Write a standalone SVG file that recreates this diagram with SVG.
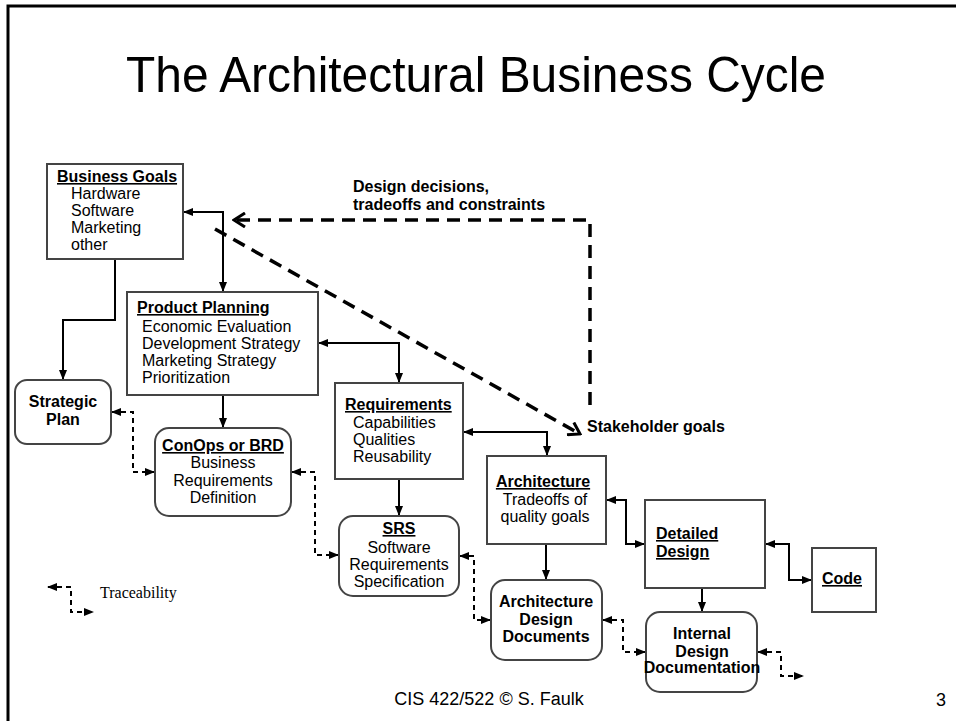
<svg xmlns="http://www.w3.org/2000/svg" width="956" height="721" viewBox="0 0 956 721">
<defs>
<style>
text{font-family:"Liberation Sans",Arial,sans-serif;font-size:16px;fill:#000}
.b{font-weight:bold}
.u{text-decoration:underline}
.m{text-anchor:middle}
.box{fill:#fff;stroke:#444;stroke-width:2}
.c{fill:none;stroke:#000;stroke-width:2}
.t{fill:none;stroke:#000;stroke-width:2;stroke-dasharray:5 4}
.big{fill:none;stroke:#000;stroke-width:3.5;stroke-dasharray:13 8}
</style>
<marker id="a" viewBox="0 0 10 8" refX="9" refY="4" markerWidth="10" markerHeight="8" markerUnits="userSpaceOnUse" orient="auto-start-reverse">
<path d="M0,0 L10,4 L0,8 z" fill="#000"/>
</marker>
<marker id="v" viewBox="0 0 16 16" refX="14" refY="8" markerWidth="16" markerHeight="16" markerUnits="userSpaceOnUse" orient="auto">
<path d="M3,1 L14,8 L3,15" fill="none" stroke="#000" stroke-width="3"/>
</marker>
</defs>
<rect width="956" height="721" fill="#fff"/>
<path d="M8,721 V6 H956" fill="none" stroke="#000" stroke-width="3"/>
<text x="476" y="92" class="m" style="font-size:50px" textLength="700" lengthAdjust="spacingAndGlyphs">The Architectural Business Cycle</text>

<g id="connectors">
<path class="c" d="M184,212 H223 V291" marker-start="url(#a)" marker-end="url(#a)"/>
<path class="c" d="M115,259 V320 H63 V379" marker-end="url(#a)"/>
<path class="c" d="M223,395 V427" marker-end="url(#a)"/>
<path class="c" d="M319,343 H399 V382" marker-start="url(#a)" marker-end="url(#a)"/>
<path class="c" d="M399,479 V515" marker-end="url(#a)"/>
<path class="c" d="M464,432 H547 V455" marker-start="url(#a)" marker-end="url(#a)"/>
<path class="c" d="M546,544 V579" marker-end="url(#a)"/>
<path class="c" d="M607,500 H626 V544 H644" marker-start="url(#a)" marker-end="url(#a)"/>
<path class="c" d="M766,544 H789 V580 H811" marker-start="url(#a)" marker-end="url(#a)"/>
<path class="c" d="M702,588 V611" marker-end="url(#a)"/>
<path class="t" d="M112,412 H133 V472 H154" marker-start="url(#a)" marker-end="url(#a)"/>
<path class="t" d="M292,472 H315 V555 H338" marker-start="url(#a)" marker-end="url(#a)"/>
<path class="t" d="M460,556 H474 V620 H490" marker-start="url(#a)" marker-end="url(#a)"/>
<path class="t" d="M603,620 H623 V652 H645" marker-start="url(#a)" marker-end="url(#a)"/>
<path class="t" d="M758,652 H781 V676 H803" marker-start="url(#a)" marker-end="url(#a)"/>
<path class="t" d="M48,587 H71 V612 H93" marker-start="url(#a)" marker-end="url(#a)"/>
<path class="big" d="M590,405 V220 H234" marker-end="url(#v)"/>
<path class="big" d="M215,229 L580,434" marker-end="url(#v)"/>
<text x="353" y="192" class="b">Design decisions,</text>
<text x="353" y="210" class="b">tradeoffs and constraints</text>
<text x="587" y="432" class="b">Stakeholder goals</text>
<text x="100" y="598" style="font-family:'Liberation Serif','Times New Roman',serif">Traceability</text>
</g>

<g id="business-goals">
<rect class="box" x="47" y="164" width="136" height="95"/>
<text x="57" y="182" class="b u">Business Goals</text>
<text x="71" y="199">Hardware</text>
<text x="71" y="216">Software</text>
<text x="71" y="233">Marketing</text>
<text x="71" y="250">other</text>
</g>

<g id="product-planning">
<rect class="box" x="127" y="292" width="191" height="103"/>
<text x="137" y="313" class="b u">Product Planning</text>
<text x="142" y="332">Economic Evaluation</text>
<text x="142" y="349">Development Strategy</text>
<text x="142" y="366">Marketing Strategy</text>
<text x="142" y="383">Prioritization</text>
</g>

<g id="strategic-plan">
<rect class="box" x="15" y="380" width="96" height="64" rx="12"/>
<text x="63" y="407" class="b m">Strategic</text>
<text x="63" y="425" class="b m">Plan</text>
</g>

<g id="conops">
<rect class="box" x="155" y="428" width="136" height="88" rx="14"/>
<text x="223" y="451" class="b u m">ConOps or BRD</text>
<text x="223" y="468" class="m">Business</text>
<text x="223" y="486" class="m">Requirements</text>
<text x="223" y="503" class="m">Definition</text>
</g>

<g id="requirements">
<rect class="box" x="335" y="383" width="128" height="96"/>
<text x="345" y="410" class="b u">Requirements</text>
<text x="353" y="428">Capabilities</text>
<text x="353" y="445">Qualities</text>
<text x="353" y="462">Reusability</text>
</g>

<g id="srs">
<rect class="box" x="339" y="516" width="120" height="80" rx="14"/>
<text x="399" y="534" class="b u m">SRS</text>
<text x="399" y="553" class="m">Software</text>
<text x="399" y="570" class="m">Requirements</text>
<text x="399" y="587" class="m">Specification</text>
</g>

<g id="architecture">
<rect class="box" x="487" y="456" width="119" height="88"/>
<text x="543" y="487" class="b u m">Architecture</text>
<text x="545" y="505" class="m">Tradeoffs of</text>
<text x="545" y="522" class="m">quality goals</text>
</g>

<g id="detailed-design">
<rect class="box" x="645" y="500" width="120" height="88"/>
<text x="656" y="539" class="b u">Detailed</text>
<text x="656" y="557" class="b u">Design</text>
</g>

<g id="code">
<rect class="box" x="812" y="548" width="64" height="64"/>
<text x="822" y="584" class="b u">Code</text>
</g>

<g id="architecture-design-documents">
<rect class="box" x="491" y="580" width="111" height="80" rx="14"/>
<text x="546" y="607" class="b m">Architecture</text>
<text x="546" y="625" class="b m">Design</text>
<text x="546" y="642" class="b m">Documents</text>
</g>

<g id="internal-design-documentation">
<rect class="box" x="646" y="612" width="111" height="80" rx="14"/>
<text x="702" y="639" class="b m">Internal</text>
<text x="702" y="657" class="b m">Design</text>
<text x="702" y="673" class="b m">Documentation</text>
</g>

<text x="489" y="705" class="m" style="font-size:18px">CIS 422/522 © S. Faulk</text>
<text x="946" y="706" style="font-size:18px;text-anchor:end">3</text>
</svg>
